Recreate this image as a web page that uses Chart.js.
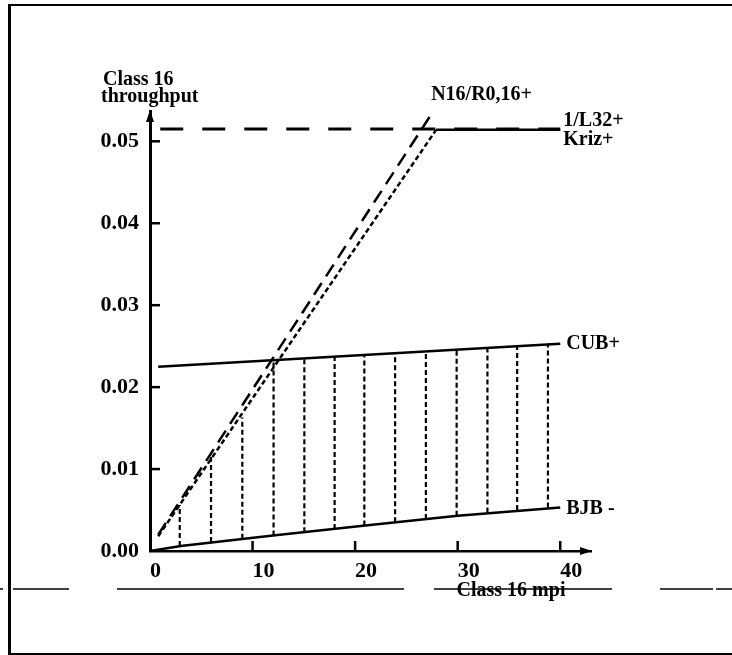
<!DOCTYPE html>
<html>
<head>
<meta charset="utf-8">
<script src="https://cdn.jsdelivr.net/npm/chart.js@4"></script>
<style>
  body { margin: 0; background: #fff; }
  .chart_box { position: relative; width: 732px; height: 655px; }
</style>
</head>
<body>
<div class="chart_box"><canvas id="throughputChart"></canvas></div>
<script>
"use strict";

// Axis ticks
const xTicks = [0, 10, 20, 30, 40];
const yTicks = [0, 0.01, 0.02, 0.03, 0.04, 0.05];

// Curves
const bjbX = [0, 3, 12, 21, 30, 40];
const bjbY = [0, 0.0006, 0.0019, 0.0031, 0.0043, 0.0053];

const cubX = [0.8, 40];
const cubY = [0.0225, 0.0253];

const n16X = [0.8, 28.0];
const n16Y = [0.002, 0.0544];

const krizX = [0.8, 27.9, 40];
const krizY = [0.0018, 0.0514, 0.0514];

const l32X = [1, 40];
const l32Y = [0.0515, 0.0515];

// Hatched region (vertical dotted lines)
const hatchX = [2.9, 5.95, 9.0, 12.05, 15.05, 18.0, 20.9, 23.9, 26.9, 29.9, 32.9, 35.8, 38.8];
const hatchLow = [0.0006, 0.0011, 0.0015, 0.0019, 0.0023, 0.0027, 0.0031, 0.0035, 0.0039, 0.0043, 0.0047, 0.005, 0.0053];
const hatchHigh = [0.0056, 0.0116, 0.0163, 0.0233, 0.0236, 0.0238, 0.024, 0.0242, 0.0244, 0.0246, 0.0248, 0.0251, 0.0253];

const SERIF = "'Liberation Serif', 'DejaVu Serif', serif";
Chart.defaults.font.family = SERIF;
Chart.defaults.color = "#000";

const toPoints = (xs, ys) => xs.map((x, i) => ({ x: x, y: ys[i] }));

const hatchPoints = [];
hatchX.forEach((x, i) => {
  hatchPoints.push({ x: x, y: hatchLow[i] });
  hatchPoints.push({ x: x, y: hatchHigh[i] });
  hatchPoints.push({ x: x, y: null });
});

const line = (data, width, dash) => ({
  data: data,
  borderColor: "#000",
  borderWidth: width,
  borderDash: dash,
  pointRadius: 0,
  fill: false,
  tension: 0,
});

// Axes arrows, inner ticks, labels and the scan artefacts
const decorations = {
  id: "decorations",
  afterDraw(chart) {
    const ctx = chart.ctx;
    const xs = chart.scales.x;
    const ys = chart.scales.y;
    const area = chart.chartArea;
    const px = (v) => xs.getPixelForValue(v);
    const py = (v) => ys.getPixelForValue(v);

    ctx.save();
    ctx.strokeStyle = "#000";
    ctx.fillStyle = "#000";

    // tick marks pointing inwards
    ctx.lineWidth = 2.5;
    xTicks.slice(1).forEach((v) => {
      ctx.beginPath();
      ctx.moveTo(px(v), area.bottom);
      ctx.lineTo(px(v), area.bottom - 10);
      ctx.stroke();
    });
    yTicks.slice(1).forEach((v) => {
      ctx.beginPath();
      ctx.moveTo(area.left, py(v));
      ctx.lineTo(area.left + 10, py(v));
      ctx.stroke();
    });

    // arrow heads
    ctx.beginPath();
    ctx.moveTo(area.right + 1, area.bottom);
    ctx.lineTo(area.right - 11, area.bottom - 4);
    ctx.lineTo(area.right - 11, area.bottom + 4);
    ctx.closePath();
    ctx.fill();
    ctx.beginPath();
    ctx.moveTo(area.left, area.top - 1);
    ctx.lineTo(area.left - 4, area.top + 11);
    ctx.lineTo(area.left + 4, area.top + 11);
    ctx.closePath();
    ctx.fill();

    // frame of the scanned page
    ctx.lineWidth = 3;
    ctx.beginPath();
    ctx.moveTo(9.5, 4);
    ctx.lineTo(9.5, 655);
    ctx.stroke();
    ctx.lineWidth = 2;
    ctx.beginPath();
    ctx.moveTo(8, 5);
    ctx.lineTo(732, 5);
    ctx.moveTo(8, 654);
    ctx.lineTo(732, 654);
    ctx.stroke();

    // broken horizontal scan line
    ctx.lineWidth = 1.5;
    [[0, 3], [13, 69], [117, 404], [434, 612], [660, 713], [716, 732]].forEach((s) => {
      ctx.beginPath();
      ctx.moveTo(s[0], 589);
      ctx.lineTo(s[1], 589);
      ctx.stroke();
    });

    // texts
    ctx.font = "bold 20px " + SERIF;
    ctx.textBaseline = "middle";
    ctx.textAlign = "left";
    ctx.fillText("Class 16", 103, 80);
    ctx.fillText("throughput", 101, 97);

    ctx.fillText("N16/R0,16+", px(n16X[1]) - 6, py(n16Y[1]) - 10);
    ctx.fillText("1/L32+", px(40) + 3, py(l32Y[1]) - 8);
    ctx.fillText("Kriz+", px(40) + 3, py(l32Y[1]) + 11);
    ctx.fillText("CUB+", px(40) + 6, py(cubY[1]));
    ctx.fillText("BJB -", px(40) + 6, py(bjbY[bjbY.length - 1]) + 1);

    ctx.textAlign = "center";
    ctx.fillText("Class 16 mpi", 511, 591);
    ctx.restore();
  },
};

new Chart(document.getElementById("throughputChart"), {
  type: "line",
  data: {
    datasets: [
      line(toPoints(bjbX, bjbY), 2.5, []),
      line(toPoints(cubX, cubY), 2.5, []),
      line(toPoints(n16X, n16Y), 2.5, [14, 8]),
      Object.assign(line(toPoints(krizX, krizY), 2.5, []), {
        segment: { borderDash: (c) => (c.p0DataIndex === 0 ? [5, 3] : undefined) },
      }),
      line(toPoints(l32X, l32Y), 3, [23, 19]),
      Object.assign(line(hatchPoints, 2.2, [5, 3]), { spanGaps: false }),
    ],
  },
  options: {
    responsive: true,
    maintainAspectRatio: false,
    animation: false,
    layout: { padding: { left: 0, top: 111, right: 141, bottom: 0 } },
    plugins: { legend: { display: false }, tooltip: { enabled: false } },
    scales: {
      x: {
        type: "linear",
        min: 0,
        max: 43,
        grid: { display: false, drawTicks: false },
        border: { display: true, width: 2.5, color: "#000" },
        afterBuildTicks: (scale) => { scale.ticks = xTicks.map((v) => ({ value: v })); },
        afterFit: (scale) => { scale.height = 104; },
        ticks: {
          align: "start",
          padding: 7,
          font: { size: 22, weight: "bold" },
          callback: (v) => String(v),
        },
      },
      y: {
        type: "linear",
        min: 0,
        max: 0.0537,
        grid: { display: false, drawTicks: false },
        border: { display: true, width: 3, color: "#000" },
        afterBuildTicks: (scale) => { scale.ticks = yTicks.map((v) => ({ value: v })); },
        afterFit: (scale) => { scale.width = 150; },
        ticks: {
          padding: 11,
          font: { size: 22, weight: "bold" },
          callback: (v) => Number(v).toFixed(2),
        },
      },
    },
  },
  plugins: [decorations],
});
</script>
</body>
</html>
